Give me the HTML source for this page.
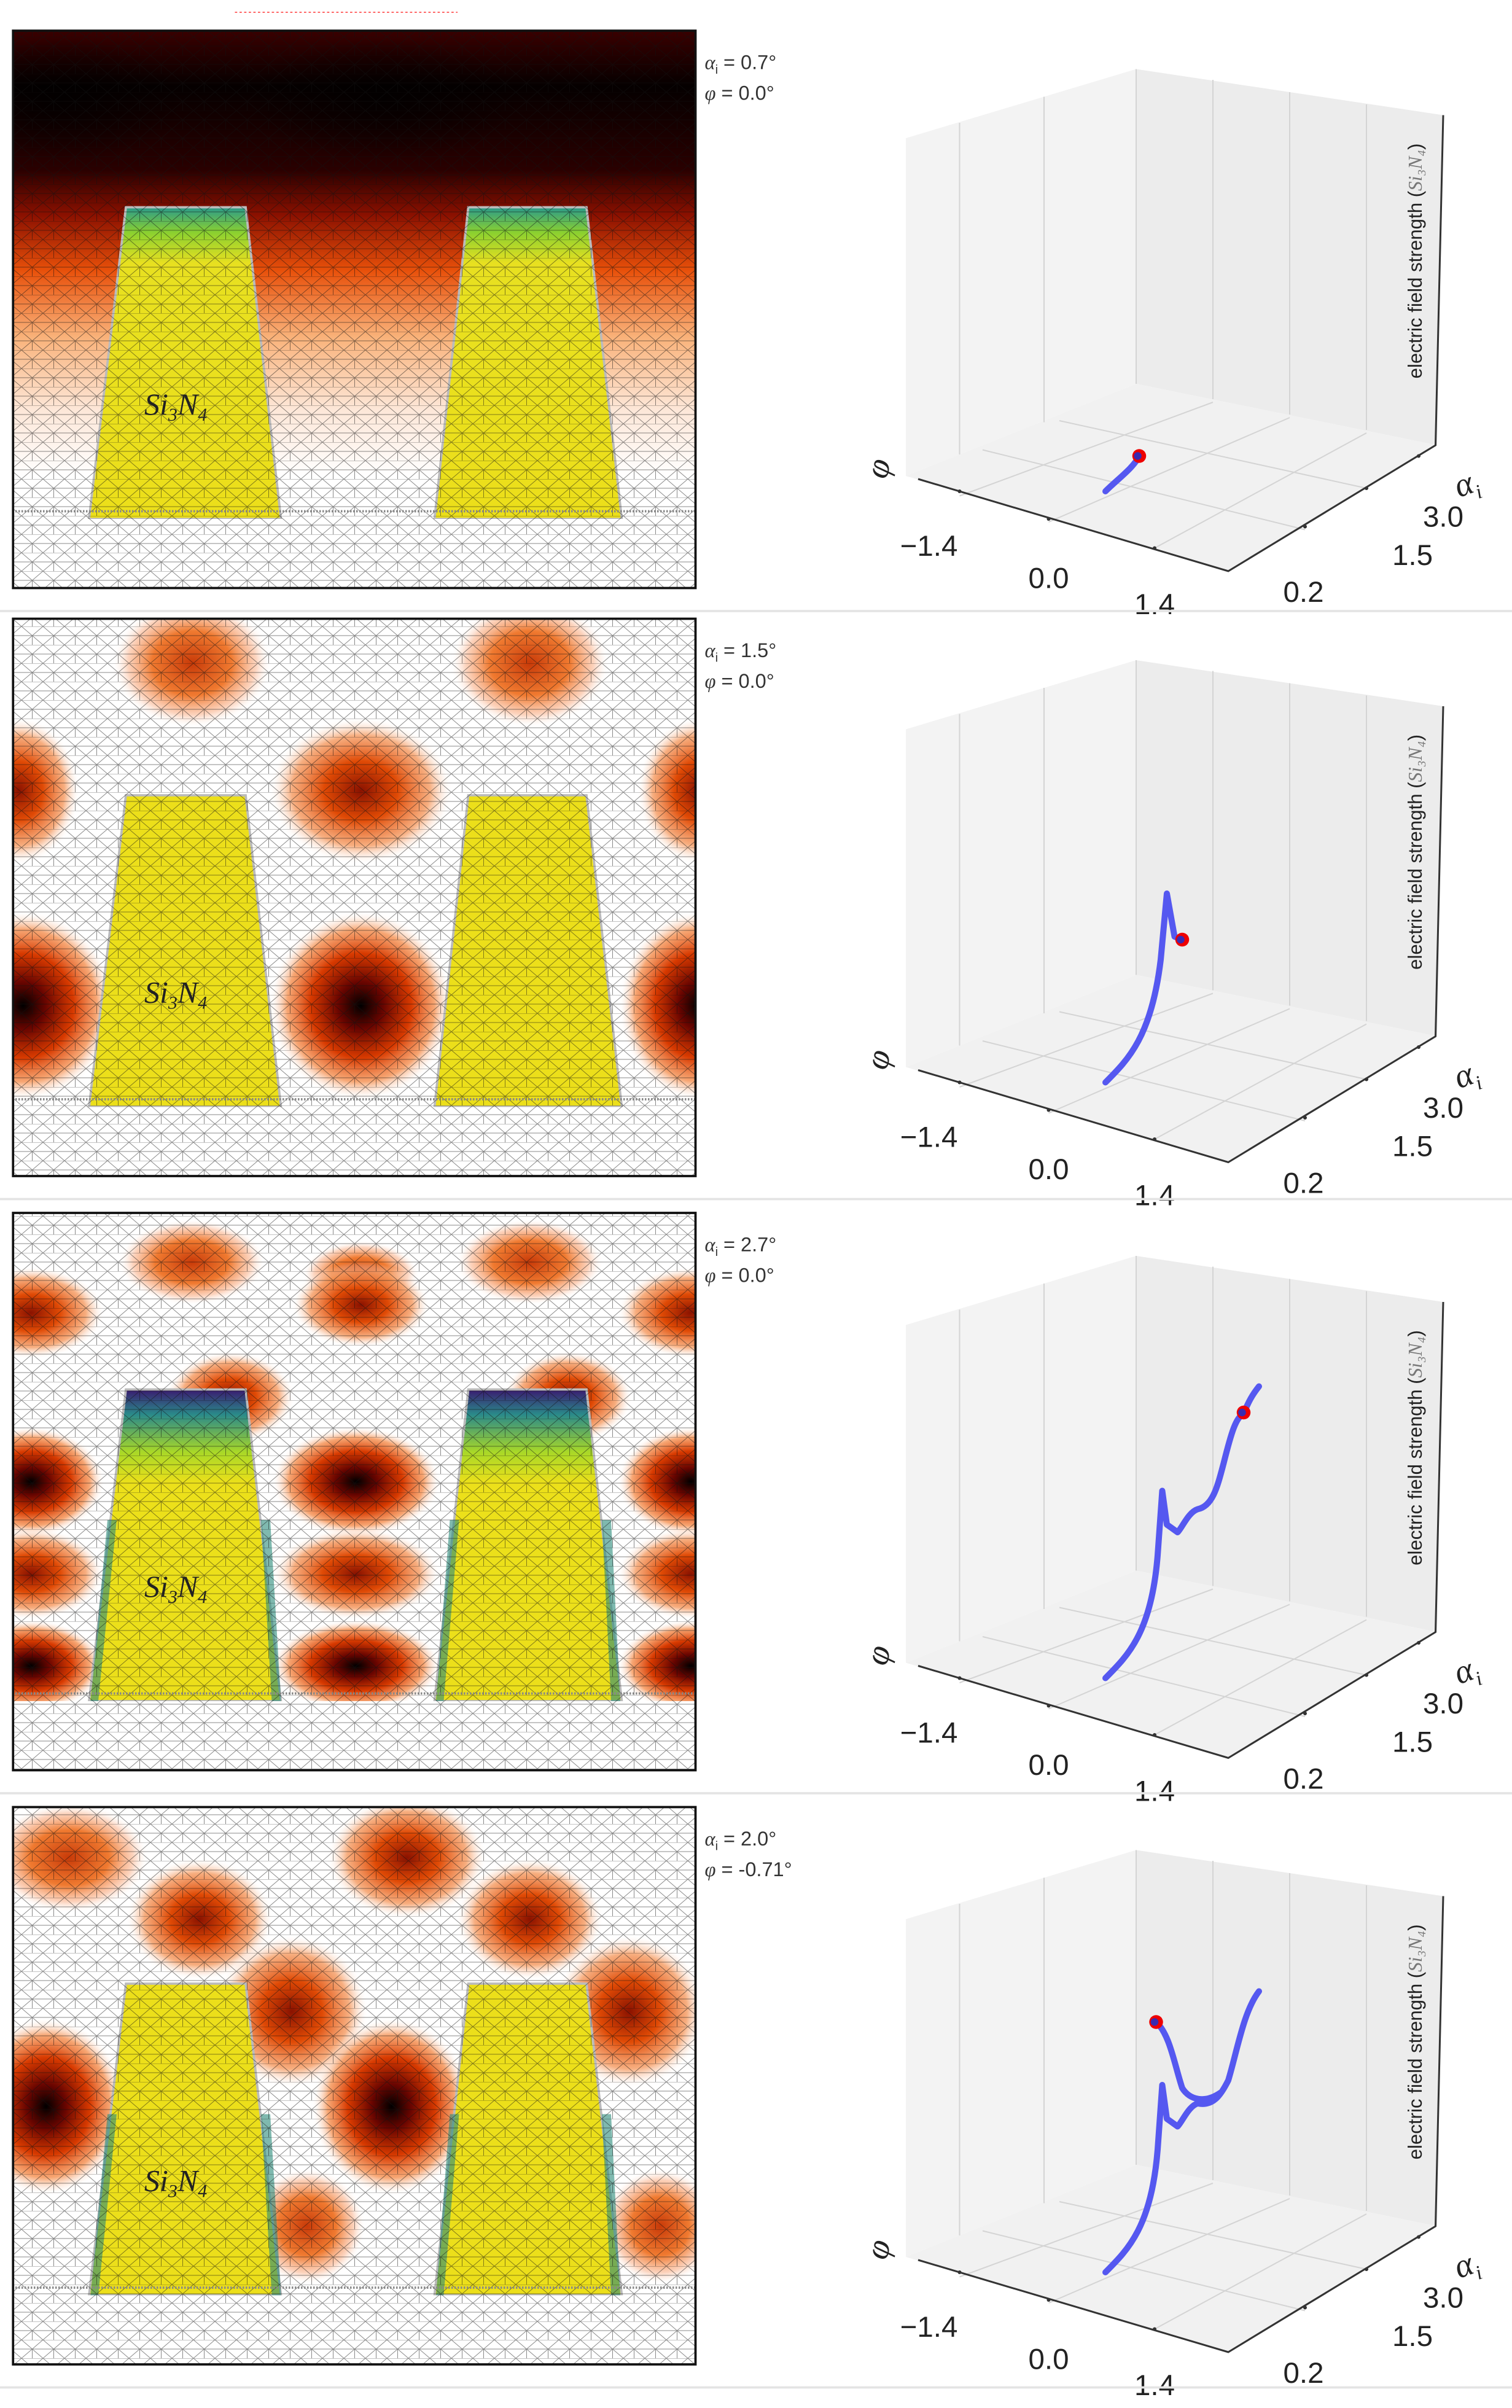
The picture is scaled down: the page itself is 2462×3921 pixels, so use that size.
<!DOCTYPE html>
<html><head><meta charset="utf-8"><style>
html,body{margin:0;padding:0;background:#fff;}
svg{display:block;}
</style></head><body>
<svg id="s" width="2462" height="3921" viewBox="0 0 984.8 1568.4" xmlns="http://www.w3.org/2000/svg" font-family="Liberation Sans, DejaVu Sans, sans-serif">
<defs>
<pattern id="mesh" width="14" height="12" patternUnits="userSpaceOnUse">
<path d="M0 0H14M0 6H14M0 0L7 6L14 0M0 12L7 6L14 12M7 6L7 12" stroke="#111" stroke-width="0.4" fill="none" opacity="0.5"/>
</pattern>
<linearGradient id="top1" x1="0" y1="0" x2="0" y2="1">
<stop offset="0" stop-color="#3a0000"/><stop offset="0.1" stop-color="#050000"/><stop offset="0.25" stop-color="#2a0000"/><stop offset="0.33" stop-color="#8a1000"/><stop offset="0.43" stop-color="#e8500a"/><stop offset="0.55" stop-color="#f9b27a"/><stop offset="0.68" stop-color="#fde7d8"/><stop offset="0.8" stop-color="#ffffff"/><stop offset="1" stop-color="#ffffff"/>
</linearGradient>
<radialGradient id="blobD"><stop offset="0" stop-color="#000"/><stop offset="0.25" stop-color="#6a0500"/><stop offset="0.55" stop-color="#d83a00"/><stop offset="0.8" stop-color="#f59050" stop-opacity="0.8"/><stop offset="1" stop-color="#fff" stop-opacity="0"/></radialGradient>
<radialGradient id="blobM"><stop offset="0" stop-color="#8a1200"/><stop offset="0.4" stop-color="#e04a05"/><stop offset="0.75" stop-color="#f59a60" stop-opacity="0.8"/><stop offset="1" stop-color="#fff" stop-opacity="0"/></radialGradient>
<radialGradient id="blobL"><stop offset="0" stop-color="#c83a08"/><stop offset="0.5" stop-color="#f07a30"/><stop offset="0.8" stop-color="#fbc0a0" stop-opacity="0.7"/><stop offset="1" stop-color="#fff" stop-opacity="0"/></radialGradient>
<radialGradient id="blackTop"><stop offset="0" stop-color="#000" stop-opacity="0.7"/><stop offset="1" stop-color="#000" stop-opacity="0"/></radialGradient>
<linearGradient id="yel" x1="0" y1="0" x2="0" y2="1"><stop offset="0" stop-color="#2a9a8a"/><stop offset="0.08" stop-color="#8ad030"/><stop offset="0.18" stop-color="#e8e020"/><stop offset="1" stop-color="#ecdf1a"/></linearGradient>
<linearGradient id="yel3" x1="0" y1="0" x2="0" y2="1"><stop offset="0" stop-color="#3a1a70"/><stop offset="0.08" stop-color="#2a8a8a"/><stop offset="0.2" stop-color="#a8d828"/><stop offset="0.3" stop-color="#ece01a"/><stop offset="1" stop-color="#ecdf1a"/></linearGradient>
<clipPath id="c0"><rect x="8" y="20" width="445" height="363"/></clipPath>
<clipPath id="c1"><rect x="8" y="403" width="445" height="363"/></clipPath>
<clipPath id="c2"><rect x="8" y="790" width="445" height="363"/></clipPath>
<clipPath id="c3"><rect x="8" y="1177" width="445" height="363"/></clipPath>
</defs>
<g id="g"></g>
</svg>
<script>
var g=document.getElementById('g');var h='';
h+='<line x1="153" y1="8" x2="298" y2="8" stroke="#f66" stroke-width="0.8" stroke-dasharray="1.5,1.5"/>';
var tops=[20,403,790,1177];
var blobs=[
 [],
 [[125,432,52,42,'L'],[345,432,52,42,'L'],[235,515,60,48,'M'],[12,515,40,48,'M'],[455,515,40,48,'M'],[15,655,60,62,'D'],[235,655,60,62,'D'],[455,655,52,62,'D']],
 [[125,822,48,28,'L'],[345,822,48,28,'L'],[235,830,38,22,'L'],[20,855,48,30,'M'],[235,850,45,28,'M'],[450,855,48,30,'M'],[150,910,42,30,'M'],[370,910,42,30,'M'],[20,965,48,36,'D'],[232,965,55,36,'D'],[450,965,48,36,'D'],[20,1025,48,30,'M'],[232,1025,55,30,'M'],[450,1025,48,30,'M'],[20,1085,48,30,'D'],[232,1085,55,30,'D'],[450,1085,48,30,'D']],
 [[265,1210,52,40,'M'],[45,1210,52,36,'L'],[130,1250,48,40,'M'],[345,1250,48,40,'M'],[190,1310,50,50,'M'],[410,1310,50,50,'M'],[30,1372,52,58,'D'],[255,1372,52,58,'D'],[130,1445,50,40,'M'],[350,1445,50,40,'M'],[200,1450,38,38,'L'],[430,1450,38,38,'L']]
];
var labs=[['0.7°','0.0°'],['1.5°','0.0°'],['2.7°','0.0°'],['2.0°','-0.71°']];
for(var i=0;i<4;i++){
 var t=tops[i];
 h+='<g clip-path="url(#c'+i+')">';
 h+='<rect x="8" y="'+t+'" width="445" height="363" fill="'+(i==0?'url(#top1)':'#fff')+'"/>';
 if(i==0){h+='<ellipse cx="40" cy="'+(t+45)+'" rx="80" ry="40" fill="url(#blackTop)"/><ellipse cx="250" cy="'+(t+45)+'" rx="90" ry="40" fill="url(#blackTop)"/>';}
 blobs[i].forEach(function(b){h+='<ellipse cx="'+b[0]+'" cy="'+b[1]+'" rx="'+b[2]+'" ry="'+b[3]+'" fill="url(#blob'+b[4]+')"/>';});
 var a=t+115,b=t+318;var fill=i==2?'url(#yel3)':(i==0?'url(#yel)':'#ecdf1a');
 h+='<polygon points="82,'+a+' 160,'+a+' 183,'+b+' 58,'+b+'" fill="'+fill+'" stroke="#bbb" stroke-width="1.5"/>';
 h+='<polygon points="305,'+a+' 382,'+a+' 405,'+b+' 283,'+b+'" fill="'+fill+'" stroke="#bbb" stroke-width="1.5"/>';
 if(i>1){var m=t+200;
  h+='<polygon points="70,'+m+' 76,'+m+' 64,'+b+' 59,'+b+'" fill="#2a8a7a" opacity="0.6"/><polygon points="170,'+m+' 176,'+m+' 183,'+b+' 177,'+b+'" fill="#2a8a7a" opacity="0.6"/><polygon points="293,'+m+' 299,'+m+' 289,'+b+' 284,'+b+'" fill="#2a8a7a" opacity="0.6"/><polygon points="392,'+m+' 398,'+m+' 404,'+b+' 398,'+b+'" fill="#2a8a7a" opacity="0.6"/>';}
 h+='<rect x="8" y="'+b+'" width="445" height="'+(t+363-b)+'" fill="#fff"/>';
 h+='<rect x="8" y="'+t+'" width="445" height="363" fill="url(#mesh)"/>';
 h+='<line x1="8" y1="'+(b-5)+'" x2="453" y2="'+(b-5)+'" stroke="#888" stroke-width="1.5" stroke-dasharray="1,1"/>';
 h+='</g>';
 h+='<rect x="8.5" y="'+t+'" width="444.5" height="363" fill="none" stroke="#111" stroke-width="1.5"/>';
 h+='<text x="94" y="'+(t+250)+'" font-family="Liberation Serif,serif" font-style="italic" font-size="20" fill="#222">Si<tspan font-size="12" dy="4">3</tspan><tspan dy="-4">N</tspan><tspan font-size="12" dy="4">4</tspan></text>';
 h+='<text x="459" y="'+(t+25)+'" font-size="13" fill="#333"><tspan font-family="Liberation Serif,serif" font-style="italic">α</tspan><tspan font-size="8" dy="3">i</tspan><tspan dy="-3"> = '+labs[i][0]+'</tspan></text>';
 h+='<text x="459" y="'+(t+45)+'" font-size="13" fill="#333"><tspan font-family="Liberation Serif,serif" font-style="italic">φ</tspan> = '+labs[i][1]+'</text>';
 var o=[0,385,773,1160][i];
 function P(x,y){return x+','+(y+o);}
 h+='<polygon points="'+P(590,90)+' '+P(740,45)+' '+P(740,250)+' '+P(590,310)+'" fill="#f3f3f3"/>';
 h+='<polygon points="'+P(740,45)+' '+P(940,75)+' '+P(936,290)+' '+P(740,250)+'" fill="#ececec"/>';
 h+='<polygon points="'+P(590,310)+' '+P(740,250)+' '+P(936,290)+' '+P(800,372)+'" fill="#f1f1f1"/>';
 var gl='stroke="#d4d4d4" stroke-width="0.8" fill="none"';
 [[625,80,625,296],[680,63,680,275],[790,52,790,260],[840,60,840,270],[890,68,890,280]].forEach(function(l){h+='<line x1="'+l[0]+'" y1="'+(l[1]+o)+'" x2="'+l[2]+'" y2="'+(l[3]+o)+'" '+gl+'/>';});
 h+='<line x1="740" y1="'+(45+o)+'" x2="740" y2="'+(250+o)+'" '+gl+'/>';
 [[625,323,790,262],[683,340,840,272],[752,357,890,282]].forEach(function(l){h+='<line x1="'+l[0]+'" y1="'+(l[1]+o)+'" x2="'+l[2]+'" y2="'+(l[3]+o)+'" '+gl+'/>';});
 [[640,293,850,345],[690,274,890,318]].forEach(function(l){h+='<line x1="'+l[0]+'" y1="'+(l[1]+o)+'" x2="'+l[2]+'" y2="'+(l[3]+o)+'" '+gl+'/>';});
 h+='<polyline points="'+P(598,312)+' '+P(800,372)+' '+P(935,290)+' '+P(940,75)+'" stroke="#333" stroke-width="1.2" fill="none"/>';
 [[625,320],[683,338],[752,357],[850,343],[890,318],[924,297]].forEach(function(p){h+='<circle cx="'+p[0]+'" cy="'+(p[1]+o)+'" r="1.2" fill="#333"/>';});
 h+='<text x="605" y="'+(362+o)+'" font-size="19" fill="#222" text-anchor="middle">−1.4</text>';
 h+='<text x="683" y="'+(383+o)+'" font-size="19" fill="#222" text-anchor="middle">0.0</text>';
 h+='<text x="752" y="'+(400+o)+'" font-size="19" fill="#222" text-anchor="middle">1.4</text>';
 h+='<text x="940" y="'+(343+o)+'" font-size="19" fill="#222" text-anchor="middle">3.0</text>';
 h+='<text x="920" y="'+(368+o)+'" font-size="19" fill="#222" text-anchor="middle">1.5</text>';
 h+='<text x="849" y="'+(392+o)+'" font-size="19" fill="#222" text-anchor="middle">0.2</text>';
 h+='<text x="572" y="'+(312+o)+'" font-size="22" font-family="Liberation Serif,serif" font-style="italic" fill="#222" text-anchor="middle" transform="rotate(-75 572 '+(305+o)+')">φ</text>';
 h+='<text x="955" y="'+(322+o)+'" font-size="22" font-family="Liberation Serif,serif" font-style="italic" fill="#222" text-anchor="middle" transform="rotate(-20 955 '+(315+o)+')">α<tspan font-size="13" dy="5">i</tspan></text>';
 h+='<text x="0" y="0" font-size="12.5" fill="#222" text-anchor="middle" transform="translate(926 '+(170+o)+') rotate(-90)">electric field strength (<tspan font-family="Liberation Serif,serif" font-style="italic" fill="#777">Si₃N₄</tspan>)</text>';
 var base='M720,320 C735,305 750,290 754,240 L757,198 L760,220 L767,225 C770,222 774,212 780,210 C790,208 793,195 797,180 C802,160 805,150 810,148 C813,140 816,135 820,130';
 var c=['M720,320 C728,312 738,305 742,297',
  'M720,320 C735,305 750,290 756,240 L760,197 L765,225 L770,227',
  base,
  'M720,320 C735,305 750,290 754,240 L757,198 L760,220 L767,225 C770,222 774,212 780,210 C790,212 795,205 800,195 C806,175 810,150 820,137 M753,157 C762,165 765,185 770,200 C775,208 785,210 795,203'][i];
 var dot=[[742,297],[770,227],[810,147],[753,157]][i];
 var cc=c.replace(/(\d+),(\d+)/g,function(m,x,y){return x+','+(+y+o);});
 h+='<path d="'+cc+'" stroke="#5558f0" stroke-width="4" fill="none" stroke-linecap="round" stroke-linejoin="round"/>';
 h+='<circle cx="'+dot[0]+'" cy="'+(dot[1]+o)+'" r="4.5" fill="#e00" /><circle cx="'+(dot[0]-1)+'" cy="'+(dot[1]+o)+'" r="2.5" fill="#3a2ab0"/>';
 h+='<line x1="0" y1="'+(t+378)+'" x2="985" y2="'+(t+378)+'" stroke="#e4e4e4" stroke-width="1.5"/>';
}
g.innerHTML=h;
</script>
</body></html>
